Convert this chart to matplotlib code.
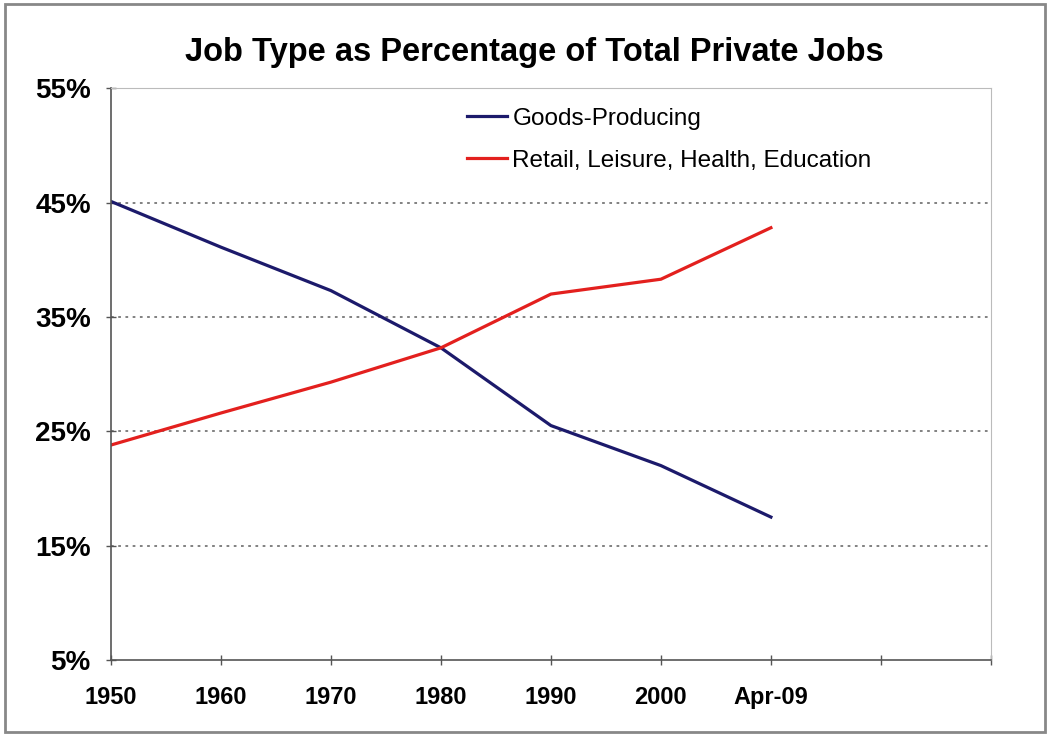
import matplotlib.pyplot as plt
from matplotlib.patches import Rectangle

# Values (percent of total private jobs)
years = ["1950", "1960", "1970", "1980", "1990", "2000", "Apr-09"]
goods = [45.1, 41.1, 37.3, 32.3, 25.5, 22.0, 17.5]
services = [23.8, 26.6, 29.3, 32.3, 37.0, 38.3, 42.8]
y_ticks = [5, 15, 25, 35, 45, 55]

plt.rcParams["font.family"] = ["Liberation Sans", "DejaVu Sans"]

fig = plt.figure(figsize=(10.5, 7.34), dpi=100)
ax = fig.add_axes([0.1057, 0.1008, 0.838, 0.779])

x = list(range(len(years)))
ax.plot(x, goods, color="#1c1a6b", lw=2.3, label="Goods-Producing")
ax.plot(x, services, color="#e3201e", lw=2.3, label="Retail, Leisure, Health, Education")

ax.set_xlim(0, 8)
ax.set_ylim(5, 55)
ax.set_xticks(range(9))
ax.set_xticklabels(years + ["", ""], fontsize=17, fontweight="bold")
ax.set_yticks(y_ticks)
ax.set_yticklabels([f"{v}%" for v in y_ticks], fontsize=20, fontweight="bold")
ax.tick_params(axis="both", direction="inout", length=7, width=1, color="#555555")
ax.tick_params(axis="x", pad=15)
ax.tick_params(axis="y", pad=11)

for v in y_ticks[1:-1]:
    ax.axhline(v, color="#777777", lw=1.3, ls=(0, (1.5, 2.5)), zorder=0)

for side in ["top", "right"]:
    ax.spines[side].set_color("#bbbbbb")
for side in ["left", "bottom"]:
    ax.spines[side].set_color("#555555")
    ax.spines[side].set_linewidth(1.2)

ax.legend(loc="upper left", bbox_to_anchor=(0.405, 0.966), frameon=False,
          borderpad=0, borderaxespad=0, fontsize=17.5, handlelength=1.65,
          handletextpad=0.2, labelspacing=0.82)

fig.suptitle("Job Type as Percentage of Total Private Jobs", x=0.5086, y=0.929,
             va="center", fontsize=23.5, fontweight="bold")

fig.patches.append(Rectangle((0.005, 0.003), 0.99, 0.992, transform=fig.transFigure,
                             fill=False, edgecolor="#888888", lw=2))

fig.savefig("out.png", dpi=100)
